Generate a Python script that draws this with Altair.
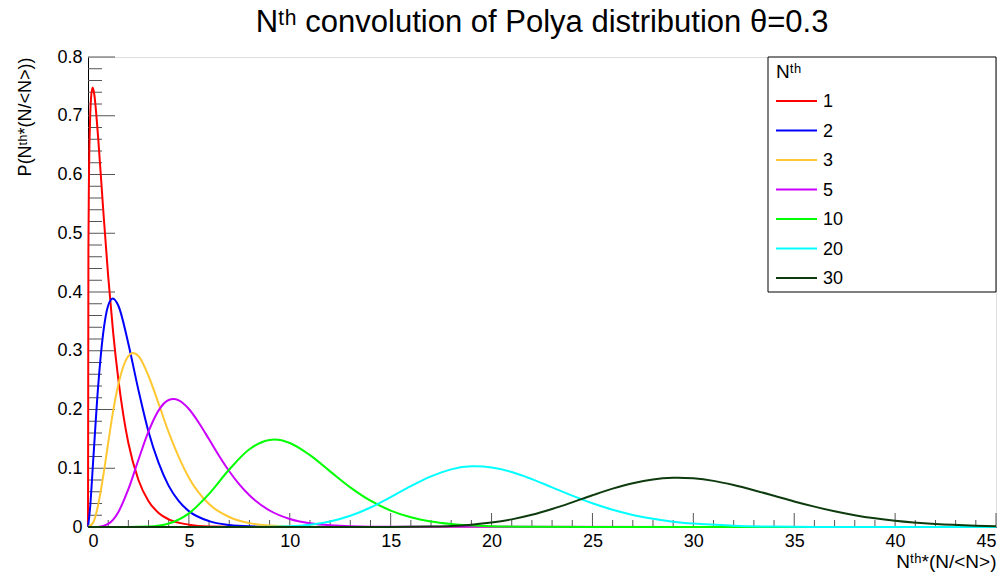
import altair as alt
import pandas as pd

# ---------------- data ----------------
series = ["1", "2", "3", "5", "10", "20", "30"]
colors = ["#ff0000", "#0000ff", "#ffc832", "#cc00ff", "#00ff00", "#00ffff", "#0d3b0d"]

x_n1 = [0, 0.02, 0.05, 0.1, 0.15, 0.23, 0.3, 0.5, 0.75, 1, 1.25, 1.5, 1.75, 2, 2.5, 3, 3.5, 4, 5, 6, 8, 45]
y_n1 = [0, 0.47, 0.60, 0.689, 0.730, 0.748, 0.739, 0.664, 0.542, 0.427, 0.330, 0.252, 0.191, 0.143, 0.080, 0.044, 0.024, 0.013, 0.004, 0.001, 0.0002, 0]

x_n2 = [0, 0.1, 0.25, 0.5, 0.75, 1, 1.23, 1.5, 2, 2.5, 3, 3.5, 4, 4.5, 5, 6, 7, 8, 10, 45]
y_n2 = [0, 0.031, 0.109, 0.238, 0.329, 0.377, 0.389, 0.377, 0.312, 0.233, 0.162, 0.109, 0.070, 0.044, 0.027, 0.010, 0.0035, 0.0012, 0.0001, 0]

x_n3 = [0, 0.25, 0.5, 0.75, 1, 1.25, 1.5, 2, 2.23, 2.5, 3, 3.5, 4, 4.5, 5, 6, 7, 8, 9, 10, 12, 45]
y_n3 = [0, 0.007, 0.037, 0.086, 0.143, 0.198, 0.242, 0.291, 0.296, 0.291, 0.257, 0.210, 0.161, 0.119, 0.084, 0.039, 0.017, 0.0066, 0.0026, 0.0009, 0.0001, 0]

x_n5 = [0, 0.5, 1, 1.5, 2, 2.5, 3, 3.5, 4, 4.23, 4.5, 5, 5.5, 6, 6.5, 7, 7.5, 8, 9, 10, 11, 12, 14, 45]
y_n5 = [0, 0.0002, 0.0052, 0.0253, 0.0643, 0.1145, 0.1626, 0.1985, 0.2161, 0.2177, 0.2154, 0.2008, 0.1771, 0.1492, 0.1209, 0.0949, 0.0724, 0.0539, 0.0281, 0.0137, 0.0063, 0.0028, 0.0005, 0]

x_n10 = [0, 2, 3, 4, 5, 6, 7, 8, 9, 9.23, 10, 11, 12, 13, 14, 15, 16, 17, 18, 20, 22, 25, 45]
y_n10 = [0, 0.00002, 0.0007, 0.0059, 0.0232, 0.0564, 0.0978, 0.1323, 0.1482, 0.1488, 0.1430, 0.1223, 0.0947, 0.0674, 0.0447, 0.0279, 0.0165, 0.0093, 0.0050, 0.0013, 0.0003, 0, 0]

x_n20 = [0, 8, 10, 11, 12, 13, 14, 15, 16, 17, 18, 19, 19.23, 20, 21, 22, 23, 24, 25, 26, 27, 28, 29, 30, 32, 34, 36, 40, 45]
y_n20 = [0, 0.0001, 0.0013, 0.0039, 0.0095, 0.0191, 0.0332, 0.0508, 0.0695, 0.0861, 0.0981, 0.1032, 0.1033, 0.1013, 0.0936, 0.0816, 0.0675, 0.0534, 0.0404, 0.0293, 0.0205, 0.0139, 0.0091, 0.0058, 0.0022, 0.0007, 0.0002, 0, 0]

x_n30 = [0, 12, 15, 16, 17, 18, 19, 20, 21, 22, 23, 24, 25, 26, 27, 28, 29, 29.23, 30, 31, 32, 33, 34, 35, 36, 37, 38, 39, 40, 42, 44, 45]
y_n30 = [0, 0.000003, 0.0001, 0.0003, 0.0008, 0.0018, 0.0039, 0.0075, 0.0130, 0.0207, 0.0306, 0.0420, 0.0540, 0.0653, 0.0746, 0.0810, 0.0838, 0.0840, 0.0828, 0.0785, 0.0714, 0.0627, 0.0532, 0.0435, 0.0347, 0.0268, 0.0201, 0.0147, 0.0105, 0.0050, 0.0022, 0.0014]

curves_x = [x_n1, x_n2, x_n3, x_n5, x_n10, x_n20, x_n30]
curves_y = [y_n1, y_n2, y_n3, y_n5, y_n10, y_n20, y_n30]

y_major = [0, 0.1, 0.2, 0.3, 0.4, 0.5, 0.6, 0.7, 0.8]
y_minor = [round(i * 0.02, 2) for i in range(41) if i % 5 != 0]
x_major = [0, 5, 10, 15, 20, 25, 30, 35, 40, 45]
x_minor = [i for i in range(46) if i % 5 != 0]

title_text = "Nᵗʰ convolution of Polya distribution θ=0.3"
x_title = "Nᵗʰ*(N/<N>)"
y_title = "P(Nᵗʰ*(N/<N>))"
legend_title = "Nᵗʰ"

FONT = "Liberation Sans"
W, H = 908, 470

# ---------------- scales ----------------
xs = alt.Scale(domain=[0, 45], nice=False, zero=False)
ys = alt.Scale(domain=[0, 0.8], nice=False, zero=False)
cs = alt.Scale(domain=series, range=colors)

layers = []

# axes carrying labels and titles (ticks drawn separately, inside the frame)
base = alt.Chart(pd.DataFrame({"x": [0], "y": [0]})).mark_point(opacity=0).encode(
    x=alt.X("x:Q", scale=xs, axis=alt.Axis(
        values=x_major, format="d", ticks=False, grid=False, domainColor="black",
        labelFont=FONT, labelFontSize=18, labelColor="black", labelPadding=5,
        title=x_title, titleFont=FONT, titleFontSize=19, titleFontWeight="normal",
        titleAnchor="end", titleAlign="right", titleBaseline="middle",
        titleX=W, titleY=34, titleColor="black")),
    y=alt.Y("y:Q", scale=ys, axis=alt.Axis(
        values=y_major, labelExpr="datum.value == 0 ? '0' : format(datum.value, '.1f')",
        ticks=False, grid=False, domainColor="black",
        labelFont=FONT, labelFontSize=18, labelColor="black", labelPadding=6,
        title=y_title, titleFont=FONT, titleFontSize=18, titleFontWeight="normal",
        titleAngle=-90, titleAlign="right", titleBaseline="middle",
        titleX=-63, titleY=0, titleColor="black")),
)
layers.append(base)

# inside ticks
tick_color = "#555555"
layers.append(alt.Chart(pd.DataFrame({"v": y_major})).mark_rule(color=tick_color, strokeWidth=1).encode(
    y=alt.Y("v:Q", scale=ys), x=alt.value(0), x2=alt.value(27)))
layers.append(alt.Chart(pd.DataFrame({"v": y_minor})).mark_rule(color=tick_color, strokeWidth=1).encode(
    y=alt.Y("v:Q", scale=ys), x=alt.value(0), x2=alt.value(14)))
layers.append(alt.Chart(pd.DataFrame({"v": x_major})).mark_rule(color=tick_color, strokeWidth=1).encode(
    x=alt.X("v:Q", scale=xs), y=alt.value(H), y2=alt.value(H - 14)))
layers.append(alt.Chart(pd.DataFrame({"v": x_minor})).mark_rule(color=tick_color, strokeWidth=1).encode(
    x=alt.X("v:Q", scale=xs), y=alt.value(H), y2=alt.value(H - 7)))

# curves, drawn in order
for name, cx, cy in zip(series, curves_x, curves_y):
    df = pd.DataFrame({"x": cx, "y": cy, "N": name})
    layers.append(alt.Chart(df).mark_line(strokeWidth=2, interpolate="monotone").encode(
        x=alt.X("x:Q", scale=xs), y=alt.Y("y:Q", scale=ys),
        color=alt.Color("N:N", scale=cs, legend=None)))

# legend box
layers.append(alt.Chart(pd.DataFrame({"a": [0]})).mark_rect(fill="white", stroke="black", strokeWidth=1).encode(
    x=alt.value(680), x2=alt.value(W), y=alt.value(0), y2=alt.value(235)))
layers.append(alt.Chart(pd.DataFrame({"t": [legend_title]})).mark_text(
    font=FONT, fontSize=19, align="left", baseline="middle", color="black").encode(
    text="t:N", x=alt.value(688), y=alt.value(15)))
for i, name in enumerate(series):
    yy = 44 + i * 29.5
    d = pd.DataFrame({"N": [name]})
    layers.append(alt.Chart(d).mark_rule(strokeWidth=2).encode(
        x=alt.value(688), x2=alt.value(729), y=alt.value(yy),
        color=alt.Color("N:N", scale=cs, legend=None)))
    layers.append(alt.Chart(d).mark_text(font=FONT, fontSize=18, align="left", baseline="middle", color="black").encode(
        text="N:N", x=alt.value(735), y=alt.value(yy + 1)))

chart = alt.layer(*layers).properties(
    width=W, height=H,
    title=alt.TitleParams(title_text, font=FONT, fontSize=31, fontWeight="normal",
                          anchor="middle", color="black", offset=9),
    padding={"left": 88, "top": 57, "right": 10, "bottom": 47},
    autosize=alt.AutoSizeParams(type="none"),
).configure_view(stroke="black", strokeWidth=1).configure(background="white")

chart.save("out.html", embed_options={"renderer": "svg", "actions": False})
